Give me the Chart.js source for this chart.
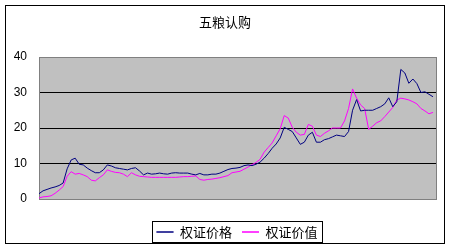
<!DOCTYPE html>
<html lang="zh">
<head>
  <meta charset="UTF-8" />
  <title>五粮认购</title>
  <script src="https://cdn.jsdelivr.net/npm/chart.js"></script>
  <style>
    body {
      margin: 0;
      background: #fff;
    }
    #wrap {
      width: 450px;
      height: 250px;
    }
  </style>
</head>
<body>
  <div id="wrap">
    <canvas id="grafica" width="450" height="250"></canvas>
  </div>

  <script>
    const chartTitle = '五粮认购';
    const seriesNames = ['权证价格', '权证价值'];

    // 权证价格 (navy line) left to right
    const priceData = [
      1.5, 2.3, 2.7, 3.1, 3.4, 3.8, 4.5, 8.5, 11.0, 11.5,
      9.8, 9.6, 8.7, 8.0, 7.4, 7.4, 8.2, 9.6, 9.3, 8.8,
      8.6, 8.4, 8.2, 8.6, 8.8, 7.9, 6.8, 7.3, 7.0, 7.1,
      7.3, 7.1, 7.0, 7.3, 7.4, 7.3, 7.3, 7.3, 7.0, 6.8,
      7.2, 6.8, 6.8, 7.0, 7.0, 7.3, 7.8, 8.3, 8.6, 8.7,
      8.9, 9.4, 9.6, 9.4, 9.8, 10.4, 11.5, 12.8, 14.3, 15.5,
      17.2, 20.2, 19.6, 19.0, 17.2, 15.4, 16.0, 18.0, 18.8, 16.0,
      16.0, 16.7, 17.0, 17.5, 18.0, 17.8, 17.6, 19.0, 25.0, 28.0,
      24.8, 25.0, 25.0, 25.0, 25.5, 26.0, 26.8, 28.5, 26.0, 27.4,
      36.5, 35.5, 32.6, 33.8, 32.5, 30.0, 30.2, 29.5, 28.8, null
    ];

    // 权证价值 (magenta line)
    const valueData = [
      0.3, 0.6, 0.7, 0.9, 1.6, 2.5, 3.5, 6.4, 7.7, 7.0,
      7.2, 6.8, 6.3, 5.3, 5.1, 6.0, 6.8, 8.2, 7.8, 7.5,
      7.4, 7.0, 6.3, 7.4, 6.8, 6.4, 6.3, 6.2, 6.1, 6.1,
      6.1, 6.1, 6.1, 6.1, 6.1, 6.2, 6.3, 6.3, 6.4, 6.5,
      5.5, 5.3, 5.5, 5.6, 5.8, 6.0, 6.3, 6.6, 7.4, 7.6,
      7.8, 8.4, 9.0, 9.7, 10.3, 11.2, 13.2, 14.5, 15.8, 17.8,
      19.8, 23.5, 22.8, 20.2, 18.8, 18.0, 18.2, 21.0, 20.5, 18.0,
      17.6, 18.5, 19.2, 20.0, 20.0, 20.0, 22.0, 25.5, 31.0, 28.4,
      26.5, 25.5, 19.6, 20.5, 21.5, 22.0, 23.2, 24.5, 25.8, 27.9,
      28.4, 28.2, 27.9, 27.4, 26.8, 25.5, 24.8, 24.0, 24.4, null
    ];

    // no dates shown on the x axis
    const labels = priceData.map(() => '');

    const yMin = 0;
    const yMax = 40;
    const yStep = 10;

    const cjkFont = "'Noto Sans CJK SC', 'Noto Sans', sans-serif";
    Chart.defaults.font.family = "'Liberation Sans', Arial, sans-serif";
    Chart.defaults.color = '#000';

    // gray plot area, outer frame and a box round the legend
    const excelLook = {
      id: 'excelLook',
      afterLayout(chart) {
        // legend sits a bit right of centre in the original
        chart.legend.left += 12;
        chart.legend.right += 12;
      },
      beforeDraw(chart) {
        const ctx = chart.ctx;
        const a = chart.chartArea;
        ctx.save();
        ctx.fillStyle = '#fff';
        ctx.fillRect(0, 0, chart.width, chart.height);
        ctx.fillStyle = '#c0c0c0';
        ctx.fillRect(a.left, a.top, a.right - a.left, a.bottom - a.top);
        ctx.restore();
      },
      beforeDatasetsDraw(chart) {
        const ctx = chart.ctx;
        const a = chart.chartArea;
        ctx.save();
        ctx.strokeStyle = '#808080';
        ctx.lineWidth = 1;
        ctx.beginPath();
        ctx.moveTo(Math.round(a.right) - 0.5, a.top);
        ctx.lineTo(Math.round(a.right) - 0.5, a.bottom);
        ctx.stroke();
        ctx.restore();
      },
      afterDraw(chart) {
        const ctx = chart.ctx;
        ctx.save();
        ctx.strokeStyle = '#000';
        ctx.lineWidth = 1;
        ctx.strokeRect(5.5, 5.5, 439, 238);
        const boxes = chart.legend.legendHitBoxes;
        if (boxes && boxes.length) {
          const first = boxes[0];
          const last = boxes[boxes.length - 1];
          const x0 = Math.round(first.left) - 3.5;
          const x1 = Math.round(last.left + last.width) + 4.5;
          const mid = first.top + first.height / 2;
          ctx.strokeRect(x0, Math.round(mid - 11) + 0.5, x1 - x0, 21);
        }
        ctx.restore();
      }
    };

    new Chart(document.getElementById('grafica'), {
      type: 'line',
      data: {
        labels: labels,
        datasets: [
          {
            label: seriesNames[0],
            data: priceData,
            borderColor: '#000080',
            backgroundColor: '#000080',
            borderWidth: 1,
            pointRadius: 0,
            tension: 0,
            spanGaps: false
          },
          {
            label: seriesNames[1],
            data: valueData,
            borderColor: '#ff00ff',
            backgroundColor: '#ff00ff',
            borderWidth: 1,
            pointRadius: 0,
            tension: 0,
            spanGaps: false
          }
        ]
      },
      options: {
        responsive: false,
        animation: false,
        layout: {
          padding: { left: 13, right: 13, top: 0, bottom: 1.5 }
        },
        plugins: {
          title: {
            display: true,
            text: chartTitle,
            color: '#000',
            font: { family: cjkFont, size: 13, weight: 'normal' },
            padding: { top: 14.2, bottom: 27.2 }
          },
          legend: {
            position: 'bottom',
            labels: {
              font: { family: cjkFont, size: 13 },
              color: '#000',
              boxWidth: 17,
              boxHeight: 0,
              padding: 10
            }
          },
          tooltip: { enabled: false }
        },
        scales: {
          x: {
            ticks: { display: false },
            grid: { display: false },
            border: { display: false },
            afterFit(scale) { scale.height = 16.5; }
          },
          y: {
            min: yMin,
            max: yMax,
            ticks: {
              stepSize: yStep,
              padding: 12,
              font: { size: 12 },
              color: '#000'
            },
            grid: {
              drawTicks: false,
              color: (c) => (c.tick.value === yMin || c.tick.value === yMax) ? '#808080' : '#000'
            },
            border: { display: true, color: '#808080' },
            afterFit(scale) { scale.width = 26; }
          }
        }
      },
      plugins: [excelLook]
    });
  </script>
</body>
</html>
